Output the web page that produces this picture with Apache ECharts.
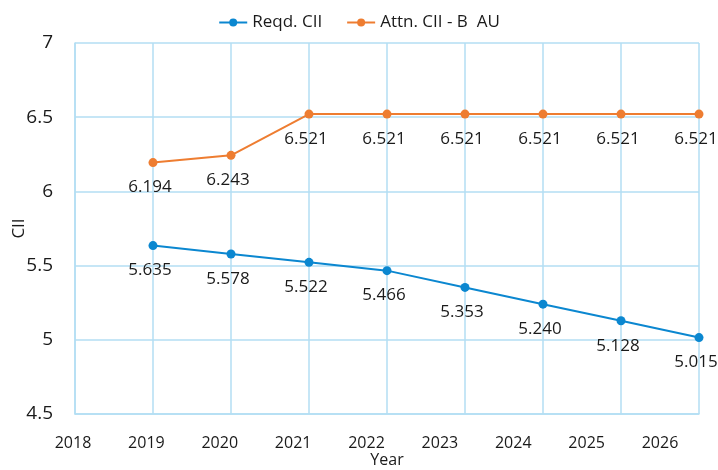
<!DOCTYPE html>
<html>
<head>
<meta charset="utf-8">
<script src="https://cdn.jsdelivr.net/npm/echarts@6/dist/echarts.min.js"></script>
<style>html,body{margin:0;padding:0;background:#fff}#c{width:718px;height:470px}</style>
</head>
<body>
<div id="c"></div>
<script>
const years = [2019, 2020, 2021, 2022, 2023, 2024, 2025, 2026];
const reqdCII = [5.635, 5.578, 5.522, 5.466, 5.353, 5.240, 5.128, 5.015];
const attnCII = [6.194, 6.243, 6.521, 6.521, 6.521, 6.521, 6.521, 6.521];
const seriesNames = ['Reqd. CII', 'Attn. CII - B  AU'];
const xTickMin = 2018, xTickMax = 2026;

const FONT = 'Open Sans';
const gridColor = '#B3DEF3';
const blue = '#0B87D0';
const orange = '#EE7D31';

function pairs(xs, ys) { return xs.map((x, i) => [x, ys[i]]); }

const chart = echarts.init(document.getElementById('c'));
const labelCfg = {
  show: true, position: 'bottom', distance: 12, offset: [-3, 0],
  color: '#1a1a1a', fontSize: 17, fontFamily: FONT,
  formatter: p => p.value[1].toFixed(3)
};
chart.setOption({
  animation: false,
  textStyle: { fontFamily: FONT },
  legend: {
    top: 9, left: 'center', itemWidth: 28, itemHeight: 10, itemGap: 24,
    textStyle: { fontSize: 17, color: '#1a1a1a', fontFamily: FONT },
    data: seriesNames
  },
  grid: [
    { left: 75, right: 19, top: 43, bottom: 56, outerBoundsMode: 'none', containLabel: false },
    { left: 73, right: 58, top: 43, bottom: 56, outerBoundsMode: 'none', containLabel: false }
  ],
  xAxis: [
    {
      type: 'value', gridIndex: 0, min: xTickMin, max: xTickMax, interval: 1,
      axisLine: { show: true, lineStyle: { color: gridColor, width: 1.5 } },
      axisTick: { show: false }, axisLabel: { show: false },
      splitLine: { show: true, lineStyle: { color: gridColor, width: 1.5 } },
      name: 'Year', nameLocation: 'middle', nameGap: 38, nameMoveOverlap: false,
      nameTextStyle: { fontSize: 16, color: '#1a1a1a', fontFamily: FONT }
    },
    {
      type: 'value', gridIndex: 1, min: xTickMin, max: xTickMax, interval: 1,
      axisLine: { show: false }, axisTick: { show: false }, splitLine: { show: false },
      axisLabel: { show: true, margin: 21, fontSize: 16, color: '#1a1a1a', fontFamily: FONT,
        formatter: v => String(v) }
    }
  ],
  yAxis: [
    {
      type: 'value', gridIndex: 0, min: 4.5, max: 7, interval: 0.5,
      axisLine: { show: true, lineStyle: { color: gridColor, width: 1.5 } },
      axisTick: { show: false },
      axisLabel: { margin: 22, fontSize: 19, color: '#1a1a1a', fontFamily: FONT },
      splitLine: { show: true, lineStyle: { color: gridColor, width: 1.5 } },
      name: 'CII', nameLocation: 'middle', nameGap: 47, nameMoveOverlap: false,
      nameTextStyle: { fontSize: 17, color: '#1a1a1a', fontFamily: FONT }
    },
    { type: 'value', gridIndex: 1, min: 4.5, max: 7, show: false }
  ],
  series: [
    {
      name: seriesNames[0], type: 'line', xAxisIndex: 0, yAxisIndex: 0,
      data: pairs(years, reqdCII), symbol: 'circle', symbolSize: 9,
      itemStyle: { color: blue }, lineStyle: { color: blue, width: 2 },
      label: labelCfg
    },
    {
      name: seriesNames[1], type: 'line', xAxisIndex: 0, yAxisIndex: 0,
      data: pairs(years, attnCII), symbol: 'circle', symbolSize: 9,
      itemStyle: { color: orange }, lineStyle: { color: orange, width: 2 },
      label: labelCfg
    }
  ]
});
</script>
</body>
</html>
